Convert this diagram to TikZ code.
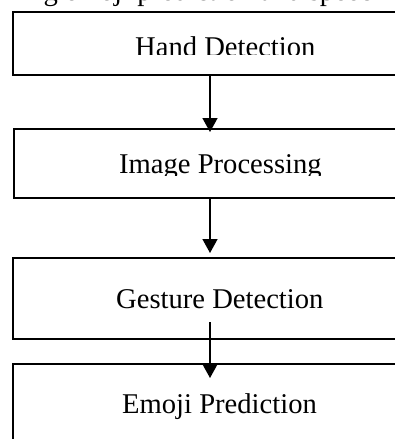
\documentclass[tikz,border=0pt]{standalone}
\usepackage{fontspec}
\setmainfont{Liberation Serif}
\usetikzlibrary{arrows.meta}
\begin{document}
\begin{tikzpicture}[x=1pt,y=-1pt,
  box/.style={draw, line width=1.6pt, minimum width=420pt, anchor=north west, inner sep=0pt},
  lbl/.style={anchor=base west, inner sep=0pt, font=\fontsize{28.6}{33}\selectfont},
  arr/.style={line width=1.6pt, -{Triangle[length=14pt,width=15pt]}}]
\useasboundingbox (0,0) rectangle (395,439);
\clip (0,0) rectangle (395,439);
% cut-off caption line at the top
\node[lbl] (cap) at (29,0.3) {ng emoji prediction and speec};
% boxes
\node[box, minimum height=63pt] (b1) at (12,11) {};
\node[box, minimum height=69pt] (b2) at (13,128) {};
\node[box, minimum height=81pt] (b3) at (12,257) {};
\node[box, minimum height=100pt] (b4) at (12,363) {};
% labels (first two clipped at the bottom as in the scan)
\begin{scope}
  \clip (0,11) rectangle (395,54);
  \node[lbl] (t1) at (135,56) {Hand Detection};
\end{scope}
\begin{scope}
  \clip (0,128) rectangle (395,175.5);
  \node[lbl] (t2) at (119,173) {Image Processing};
\end{scope}
\node[lbl] (t3) at (116,308) {Gesture Detection};
\node[lbl] (t4) at (122,413) {Emoji Prediction};
% connectors
\coordinate (ax) at (210,0);
\coordinate (e1) at (210,132);
\coordinate (e2) at (210,253);
\coordinate (s3) at (210,322);
\coordinate (e3) at (210,378);
\draw[arr] (b1.south -| ax) -- (e1);
\draw[arr] (b2.south -| ax) -- (e2);
\draw[arr] (s3) -- (e3);
\end{tikzpicture}
\end{document}
